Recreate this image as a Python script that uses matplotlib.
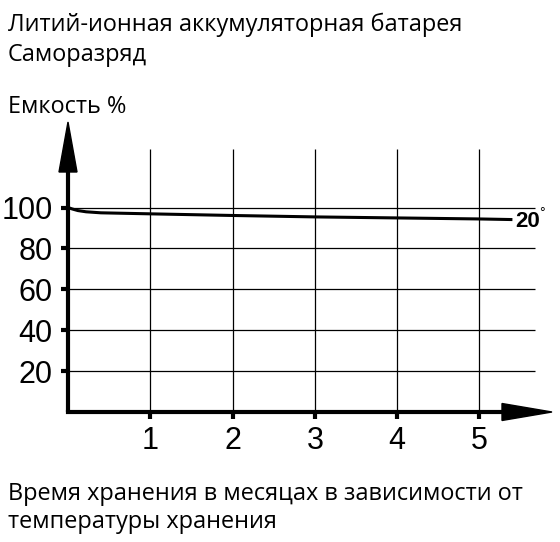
import matplotlib.pyplot as plt
from matplotlib.patches import Polygon

# саморазряд при 20°
months = [0, 0.05, 0.12, 0.22, 0.4, 1, 2, 3, 4, 5, 5.4]
capacity = [100, 99.3, 98.5, 97.9, 97.4, 96.9, 96.1, 95.4, 94.9, 94.4, 94.1]

x_ticks = [1, 2, 3, 4, 5]
y_ticks = [20, 40, 60, 80, 100]

title_lines = ["Литий-ионная аккумуляторная батарея", "Саморазряд"]
y_title = "Емкость %"
x_title_lines = ["Время хранения в месяцах в зависимости от", "температуры хранения"]
curve_label = "20"

txt_font = ["Open Sans", "DejaVu Sans"]
num_font = ["Liberation Sans", "DejaVu Sans"]

fig = plt.figure(figsize=(5.6, 5.42), dpi=100)
ax = fig.add_axes([68 / 560, 130 / 542, 484 / 560, 290 / 542])
ax.set_xlim(0, 484 / 82.3)
ax.set_ylim(0, 290 / 2.045)
for s in ax.spines.values():
    s.set_visible(False)

# сетка
ax.vlines(x_ticks, 0, (412 - 149) / 2.045, color="black", lw=0.9)
ax.hlines(y_ticks, 0, (535 - 68) / 82.3, color="black", lw=0.9)

# кривая
ax.plot(months, capacity, color="black", lw=2.2, solid_capstyle="butt")
ax.text(5.43, capacity[-1] - 0.8, curve_label, fontsize=16, fontweight="bold",
        family=num_font, va="center", ha="left")
ax.text(5.72, capacity[-1] + 3.0, "°", fontsize=10, family=num_font,
        va="center", ha="left")

# оси со стрелками
tr = ax.transAxes
ax.plot([0, 0], [0, 0.83], color="black", lw=3, transform=tr, clip_on=False,
        solid_capstyle="butt")
ax.plot([0, 0.9], [0, 0], color="black", lw=3, transform=tr, clip_on=False,
        solid_capstyle="projecting")
ax.add_patch(Polygon([[0, 1], [-0.0186, 0.8276], [0.0186, 0.8276]],
                     closed=True, color="black", transform=tr, clip_on=False))
ax.add_patch(Polygon([[1, 0], [0.8967, 0.0293], [0.8967, -0.0293]],
                     closed=True, color="black", transform=tr, clip_on=False))

ax.set_xticks(x_ticks)
ax.set_yticks(y_ticks)
ax.tick_params(axis="both", direction="out", length=5, width=3, labelsize=22)
ax.tick_params(axis="x", pad=5)
ax.tick_params(axis="y", pad=6)
for lab in ax.get_xticklabels() + ax.get_yticklabels():
    lab.set_family(num_font)

# подписи
fig.text(8 / 560, 1 - 31 / 542, title_lines[0], fontsize=16.9, family=txt_font)
fig.text(8 / 560, 1 - 61 / 542, title_lines[1], fontsize=16.9, family=txt_font)
fig.text(8 / 560, 1 - 113 / 542, y_title, fontsize=16.9, family=txt_font)
fig.text(8 / 560, 1 - 500 / 542, x_title_lines[0], fontsize=16.9, family=txt_font)
fig.text(8 / 560, 1 - 528 / 542, x_title_lines[1], fontsize=16.9, family=txt_font)

fig.savefig("out.png", dpi=100, facecolor="white")
